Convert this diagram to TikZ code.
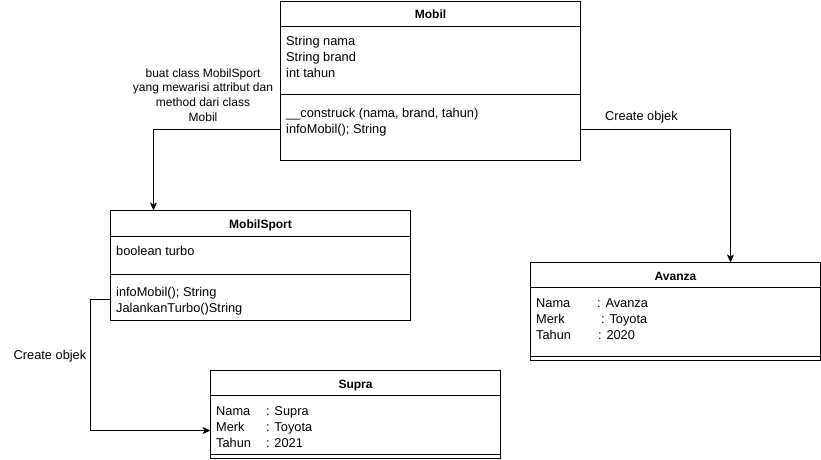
\documentclass[tikz,border=0pt]{standalone}
\usepackage{fontspec}
\setmainfont{Liberation Sans}
\usetikzlibrary{arrows.meta}
\begin{document}
\begin{tikzpicture}[x=1pt,y=-1pt,
  box/.style={draw=black,line width=1pt,fill=white,anchor=north west,inner sep=0pt,outer sep=0pt},
  sep/.style={line width=1pt},
  txt/.style={anchor=base west,inner sep=0pt,font=\fontsize{12.8}{15}\selectfont},
  ttl/.style={anchor=base,inner sep=0pt,font=\fontsize{12}{14}\selectfont\bfseries},
  lbl/.style={inner sep=0pt,font=\fontsize{12.8}{15}\selectfont},
  conn/.style={line width=1pt,-{Stealth[length=8pt,width=7pt,inset=2pt]}}]
\useasboundingbox (0,0) rectangle (821,459);
% Mobil
\node[box,minimum width=300pt,minimum height=159.5pt] (mobil) at (280.5,1) {};
\draw[sep] (280.5,26) -- (580.5,26);
\draw[sep] (280.5,94.5) -- (580.5,94.5);
\node[ttl] (mobilT) at (430.5,18.3) {Mobil};
\node[txt] (ma1) at (286,45.7) {String nama};
\node[txt] (ma2) at (286,61.7) {String brand};
\node[txt] (ma3) at (286,77.7) {int tahun};
\node[txt] (mm1) at (286,117.5) {\_\_construck (nama, brand, tahun)};
\node[txt] (mm2) at (286,133.5) {infoMobil(); String};
% MobilSport
\node[box,minimum width=300pt,minimum height=109.5pt] (msport) at (110.5,210.5) {};
\draw[sep] (110.5,236.5) -- (410.5,236.5);
\draw[sep] (110.5,274.5) -- (410.5,274.5);
\node[ttl] (msportT) at (260.5,228.5) {MobilSport};
\node[txt] (sa1) at (116,255.5) {boolean turbo};
\node[txt] (sm1) at (116,296) {infoMobil(); String};
\node[txt] (sm2) at (116,312.2) {JalankanTurbo()String};
% Supra
\node[box,minimum width=290pt,minimum height=88pt] (supra) at (210.5,370.5) {};
\draw[sep] (210.5,395.5) -- (500.5,395.5);
\draw[sep] (210.5,454) -- (500.5,454);
\node[ttl] (supraT) at (355.5,388.3) {Supra};
\node[txt] (s1a) at (216,415) {Nama};
\node[txt] (s1b) at (266,415) {: Supra};
\node[txt] (s2a) at (216,431) {Merk};
\node[txt] (s2b) at (266,431) {: Toyota};
\node[txt] (s3a) at (216,447) {Tahun};
\node[txt] (s3b) at (266,447) {: 2021};
% Avanza
\node[box,minimum width=290pt,minimum height=97.5pt] (avanza) at (530.5,262.5) {};
\draw[sep] (530.5,287.5) -- (820.5,287.5);
\draw[sep] (530.5,356) -- (820.5,356);
\node[ttl] (avanzaT) at (675.5,280.3) {Avanza};
\node[txt] (a1a) at (536,307) {Nama};
\node[txt] (a1b) at (597,307) {: Avanza};
\node[txt] (a2a) at (536,323) {Merk};
\node[txt] (a2b) at (601,323) {: Toyota};
\node[txt] (a3a) at (536,339.3) {Tahun};
\node[txt] (a3b) at (598,339.3) {: 2020};
% connectors
\coordinate (mL) at (280.5,129.5);
\coordinate (mR) at (580.5,129.5);
\coordinate (sL) at (110.5,299.5);
\draw[conn] (mL) -| (msport.north -| 153.5,0);
\draw[conn] (mR) -| (avanza.north -| 730.5,0);
\draw[conn] (sL) -- (90.5,299.5) |- (supra.west |- 0,430.5);
% labels
\node[lbl,font=\fontsize{12}{14.6}\selectfont,align=center,anchor=base] (lblInh) at (203,121)
  {buat class MobilSport\\yang mewarisi attribut dan\\method dari class\\Mobil};
\node[lbl,anchor=base west] (lblA) at (605,120) {Create objek};
\node[lbl,anchor=base west] (lblS) at (13.5,359.3) {Create objek};
\end{tikzpicture}
\end{document}
